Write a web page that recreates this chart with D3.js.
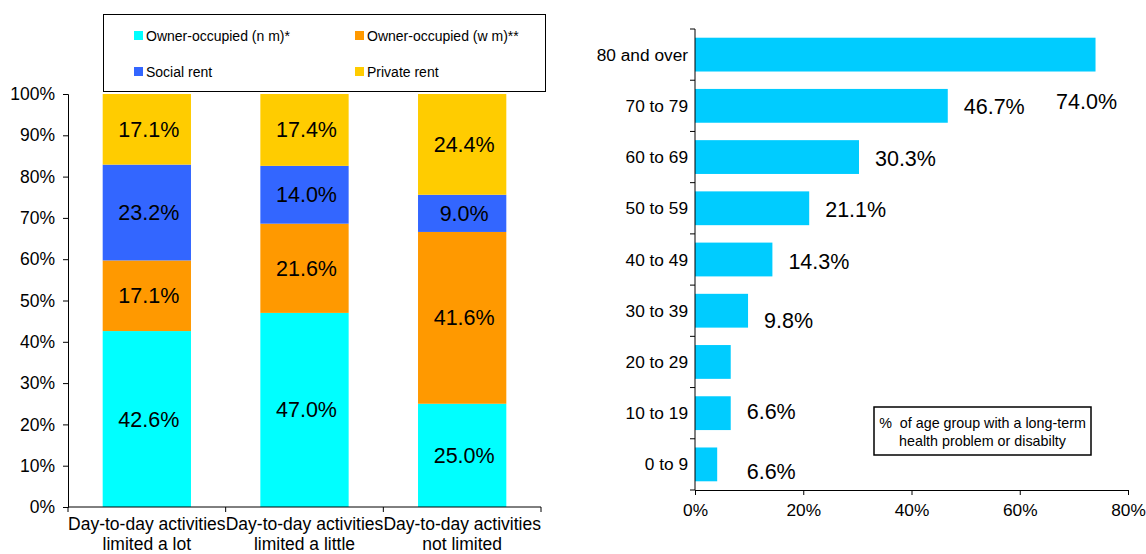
<!DOCTYPE html>
<html><head><meta charset="utf-8">
<script src="https://cdn.jsdelivr.net/npm/d3@7"></script>
<style>
html,body{margin:0;padding:0;background:#fff;}
svg{display:block;font-family:"Liberation Sans",Arial,sans-serif;}
</style></head>
<body>
<svg id="c" width="1146" height="554"></svg>
<script>
// ---- Left chart data ----
const tenureCategories = ["Day-to-day activities|limited a lot", "Day-to-day activities|limited a little", "Day-to-day activities|not limited"];
const seriesNames = ["Owner-occupied (n m)*", "Owner-occupied (w m)**", "Social rent", "Private rent"];
const ownerNoMortgage = [42.6, 47.0, 25.0];
const ownerWithMortgage = [17.1, 21.6, 41.6];
const socialRent = [23.2, 14.0, 9.0];
const privateRent = [17.1, 17.4, 24.4];
const yTickValues = [0, 10, 20, 30, 40, 50, 60, 70, 80, 90, 100];

// ---- Right chart data ----
const ageGroups = ["80 and over", "70 to 79", "60 to 69", "50 to 59", "40 to 49", "30 to 39", "20 to 29", "10 to 19", "0 to 9"];
const ageValues = [74.0, 46.7, 30.3, 21.1, 14.3, 9.8, 6.6, 6.6, 4.1];
const ageLabelValues = [74.0, 46.7, 30.3, 21.1, 14.3, 9.8, 6.6, 6.6];
const ageLabelRows = ["70 to 79", "70 to 79", "60 to 69", "50 to 59", "40 to 49", "30 to 39", "10 to 19", "0 to 9"];
const xTickValues = [0, 20, 40, 60, 80];
const boxText = ["%  of age group with a long-term", "health problem or disabilty"];

const colors = ["#00FFFF", "#FF9900", "#3366FF", "#FFCC00"];
const barColor = "#00CCFF";

const svg = d3.select("#c");

// ================= LEFT =================
const L = {left: 68, right: 541, top: 94, bottom: 507};
const xL = d3.scaleBand().domain(tenureCategories).range([L.left, L.right]).paddingInner(0.44).paddingOuter(0.22);
const yL = d3.scaleLinear().domain([0, 100]).range([L.bottom, L.top]);

const seriesData = [ownerNoMortgage, ownerWithMortgage, socialRent, privateRent];
const rows = tenureCategories.map((c, i) => {
  const o = {cat: c};
  seriesNames.forEach((s, j) => o[s] = seriesData[j][i]);
  return o;
});
const stacked = d3.stack().keys(seriesNames)(rows);

const gL = svg.append("g");
stacked.forEach((layer, j) => {
  gL.selectAll(null).data(layer).enter().append("rect")
    .attr("x", d => xL(d.data.cat))
    .attr("width", xL.bandwidth())
    .attr("y", d => yL(d[1]))
    .attr("height", d => yL(d[0]) - yL(d[1]))
    .attr("fill", colors[j]);
  gL.selectAll(null).data(layer).enter().append("text")
    .attr("x", d => xL(d.data.cat) + xL.bandwidth() / 2 + 2)
    .attr("y", d => yL((d[0] + d[1]) / 2))
    .attr("dy", "0.35em")
    .attr("text-anchor", "middle")
    .attr("font-size", 21.5)
    .attr("fill", "#000")
    .text(d => (d[1] - d[0]).toFixed(1) + "%");
});

// y axis
const yAxisL = d3.axisLeft(yL).tickValues(yTickValues).tickFormat(d => d + "%").tickSizeOuter(0).tickSize(5).tickPadding(8);
const gyL = svg.append("g").attr("transform", `translate(${L.left},0)`).call(yAxisL);
gyL.selectAll("text").attr("font-size", 17.5).attr("font-family", "Liberation Sans, Arial, sans-serif").attr("fill", "#000");
gyL.selectAll("line,path").attr("stroke", "#000");

// x axis with ticks at band boundaries
const stepL = xL.step();
const bounds = tenureCategories.map(c => xL(c) - (stepL - xL.bandwidth()) / 2).concat([L.right]);
const gxL = svg.append("g");
gxL.append("line").attr("x1", L.left).attr("x2", L.right).attr("y1", L.bottom).attr("y2", L.bottom).attr("stroke", "#000");
gxL.selectAll(null).data(bounds).enter().append("line")
  .attr("x1", d => d).attr("x2", d => d).attr("y1", L.bottom).attr("y2", L.bottom + 5).attr("stroke", "#000");
const catText = gxL.selectAll(null).data(tenureCategories).enter().append("text")
  .attr("x", d => xL(d) + xL.bandwidth() / 2)
  .attr("y", L.bottom + 23)
  .attr("text-anchor", "middle")
  .attr("font-size", 17.5);
catText.each(function(d) {
  const parts = d.split("|");
  const t = d3.select(this);
  parts.forEach((p, i) => t.append("tspan").attr("x", xL(d) + xL.bandwidth() / 2).attr("dy", i === 0 ? 0 : 19.5).text(p));
});

// legend
const lg = svg.append("g");
lg.append("rect").attr("x", 103.5).attr("y", 14.5).attr("width", 442).attr("height", 77).attr("fill", "#fff").attr("stroke", "#000");
const legPos = [[134, 36], [355, 36], [134, 72], [355, 72]];
seriesNames.forEach((s, i) => {
  lg.append("rect").attr("x", legPos[i][0]).attr("y", legPos[i][1] - 5).attr("width", 9).attr("height", 9).attr("fill", colors[i]);
  lg.append("text").attr("x", legPos[i][0] + 12).attr("y", legPos[i][1]).attr("dy", "0.35em").attr("font-size", 14).text(s);
});

// ================= RIGHT =================
const R = {left: 695, right: 1128, top: 29, bottom: 490};
const xR = d3.scaleLinear().domain([0, 80]).range([R.left, R.right]);
const yR = d3.scaleBand().domain(ageGroups).range([R.top, R.bottom]).paddingInner(0.34).paddingOuter(0.17);

const gR = svg.append("g");
gR.selectAll(null).data(ageGroups).enter().append("rect")
  .attr("x", xR(0))
  .attr("y", d => yR(d))
  .attr("width", (d, i) => xR(ageValues[i]) - xR(0))
  .attr("height", yR.bandwidth())
  .attr("fill", barColor);

// data labels
const labelNudge = [-0.12, 0.02, 0.05, 0.05, 0.07, 0.3, -0.05, 0.2];
gR.selectAll(null).data(ageLabelValues).enter().append("text")
  .attr("x", (d, i) => i === 0 ? R.right - 11 : xR(d) + 16)
  .attr("text-anchor", (d, i) => i === 0 ? "end" : "start")
  .attr("y", (d, i) => yR(ageLabelRows[i]) + yR.bandwidth() / 2 + labelNudge[i] * yR.bandwidth())
  .attr("dy", "0.35em")
  .attr("font-size", 21.5)
  .text(d => d.toFixed(1) + "%");

// y axis (ticks at band boundaries)
const stepR = yR.step();
const rBounds = [R.top].concat(ageGroups.map(a => yR(a) + yR.bandwidth() + (stepR - yR.bandwidth()) / 2));
const gyR = svg.append("g");
gyR.append("line").attr("x1", R.left).attr("x2", R.left).attr("y1", R.top).attr("y2", R.bottom).attr("stroke", "#000");
gyR.selectAll(null).data(rBounds).enter().append("line")
  .attr("x1", R.left - 5).attr("x2", R.left).attr("y1", d => d).attr("y2", d => d).attr("stroke", "#000");
gyR.selectAll(null).data(ageGroups).enter().append("text")
  .attr("x", R.left - 7)
  .attr("y", d => yR(d) + yR.bandwidth() / 2)
  .attr("dy", "0.35em")
  .attr("text-anchor", "end")
  .attr("font-size", 17.3)
  .text(d => d);

// x axis
const xAxisR = d3.axisBottom(xR).tickValues(xTickValues).tickFormat(d => d + "%").tickSizeOuter(0).tickSize(5).tickPadding(9);
const gxR = svg.append("g").attr("transform", `translate(0,${R.bottom})`).call(xAxisR);
gxR.selectAll("text").attr("font-size", 17.3).attr("font-family", "Liberation Sans, Arial, sans-serif").attr("fill", "#000");
gxR.selectAll("line,path").attr("stroke", "#000");

// annotation box
const bx = svg.append("g");
bx.append("rect").attr("x", 874).attr("y", 407).attr("width", 217).attr("height", 48).attr("fill", "#fff").attr("stroke", "#000").attr("stroke-width", 1.5);
bx.selectAll(null).data(boxText).enter().append("text")
  .attr("x", 982.5).attr("y", (d, i) => 423 + i * 18).attr("dy", "0.35em")
  .attr("text-anchor", "middle").attr("font-size", 14.3)
  .style("white-space", "pre")
  .text(d => d);
</script>
</body></html>
